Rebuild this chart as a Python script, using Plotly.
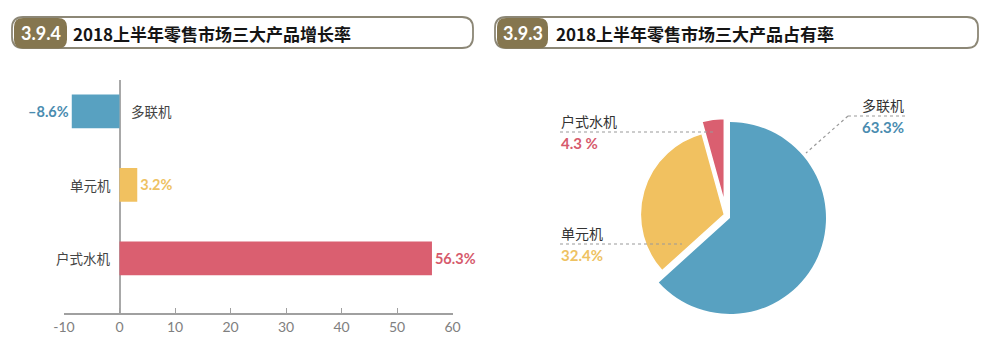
import plotly.graph_objects as go

# ---------------- data ----------------
categories = ["多联机", "单元机", "户式水机"]
growth = [-8.6, 3.2, 56.3]          # 增长率 (%)
share = [63.3, 32.4, 4.3]           # 占有率 (%)
x_ticks = [-10, 0, 10, 20, 30, 40, 50, 60]
x_tick_text = ["-10", "0", "10", "20", "30", "40", "50", "60"]
left_badge, left_title = "3.9.4", "2018上半年零售市场三大产品增长率"
right_badge, right_title = "3.9.3", "2018上半年零售市场三大产品占有率"

# ---------------- style ----------------
colors = ["#58A1C1", "#F1C160", "#DA5F70"]
text_colors = ["#4A8CB0", "#EEC262", "#D65A6C"]
CJK = "Noto Sans CJK SC"
NUM = "Lato"
W, H = 996, 358
TRANSP = "rgba(0,0,0,0)"


def px(x):
    return x / W


def py(y):
    return 1 - y / H


def rrect_path(x0, y0, x1, y1, r):
    pts = [
        ("M", [(x0 + r, y0)]),
        ("L", [(x1 - r, y0)]),
        ("Q", [(x1, y0), (x1, y0 + r)]),
        ("L", [(x1, y1 - r)]),
        ("Q", [(x1, y1), (x1 - r, y1)]),
        ("L", [(x0 + r, y1)]),
        ("Q", [(x0, y1), (x0, y1 - r)]),
        ("L", [(x0, y0 + r)]),
        ("Q", [(x0, y0), (x0 + r, y0)]),
    ]
    s = ""
    for cmd, ps in pts:
        s += cmd + " " + " ".join(f"{px(a):.5f},{py(b):.5f}" for a, b in ps) + " "
    return s + "Z"


fig = go.Figure()

# ---------------- bar chart ----------------
def fmt(v):
    return f"<b>{v:.1f}%</b>".replace("-", "–")


fig.add_trace(go.Bar(
    x=growth, y=categories, orientation="h",
    marker=dict(color=colors, line=dict(width=0)),
    width=0.46,
    text=[fmt(v) for v in growth],
    textposition="outside",
    textfont=dict(color=text_colors, size=14.5, family=NUM),
    cliponaxis=False,
    showlegend=False,
    hoverinfo="x+y",
))

# ---------------- pie chart (two layers: blue larger, others exploded) ----------------
bc, br = (730, 218), 96
fig.add_trace(go.Pie(
    values=share, labels=categories, sort=False, direction="clockwise", rotation=0,
    marker=dict(colors=[colors[0], TRANSP, TRANSP], line=dict(width=0)),
    textinfo="none", showlegend=False,
    domain=dict(x=[px(bc[0] - br), px(bc[0] + br)], y=[py(bc[1] + br), py(bc[1] - br)]),
))
oc, orad, maxpull = (726, 215), 84, 0.15
half = orad * (1 + maxpull)
fig.add_trace(go.Pie(
    values=share, labels=categories, sort=False, direction="clockwise", rotation=0,
    pull=[0, 0.02, maxpull],
    marker=dict(colors=[TRANSP, colors[1], colors[2]],
                line=dict(color=[TRANSP, "white", "white"], width=[0, 1.5, 1.5])),
    textinfo="none", showlegend=False,
    domain=dict(x=[px(oc[0] - half), px(oc[0] + half)], y=[py(oc[1] + half), py(oc[1] - half)]),
))

fig.update_layout(
    width=W, height=H,
    margin=dict(l=0, r=0, t=0, b=0),
    paper_bgcolor="white", plot_bgcolor="white",
    template="none",
    xaxis=dict(
        domain=[px(64), px(452.5)], range=[-10, 60],
        tickvals=x_ticks, ticktext=x_tick_text,
        ticks="inside", ticklen=5, tickwidth=1.2, tickcolor="#A0A0A0",
        showline=True, linecolor="#A0A0A0", linewidth=1.5,
        zeroline=True, zerolinecolor="#A8A8A8", zerolinewidth=1.5,
        showgrid=False, automargin=False,
        tickfont=dict(size=14, color="#808080", family=NUM),
        fixedrange=True,
    ),
    yaxis=dict(
        domain=[py(313), py(80)], type="category",
        categoryorder="array", categoryarray=categories,
        range=[2.744, -0.426],
        showticklabels=False, showgrid=False, zeroline=False, showline=False,
        automargin=False, fixedrange=True,
    ),
)

annotations = []
shapes = []

# category labels next to the zero axis
for cat, v in zip(categories, growth):
    if v < 0:
        annotations.append(dict(x=0, y=cat, xref="x", yref="y", text=cat, showarrow=False,
                                xanchor="left", xshift=9,
                                font=dict(family=CJK, size=13.5, color="#444444")))
    else:
        annotations.append(dict(x=0, y=cat, xref="x", yref="y", text=cat, showarrow=False,
                                xanchor="right", xshift=-7,
                                font=dict(family=CJK, size=13.5, color="#444444")))

# headers
for (bx0, bx1, hx1, badge, title, tx) in [
    (14, 67, 473, left_badge, left_title, 71),
    (497, 548, 978, right_badge, right_title, 554),
]:
    shapes.append(dict(type="path", xref="paper", yref="paper",
                       path=rrect_path(bx0 - 2, 17, hx1, 48, 11),
                       line=dict(color="#8C8776", width=1.8), fillcolor="rgba(0,0,0,0)"))
    shapes.append(dict(type="path", xref="paper", yref="paper",
                       path=rrect_path(bx0, 18, bx1, 48.5, 9),
                       line=dict(width=0), fillcolor="#85764F"))
    annotations.append(dict(x=px((bx0 + bx1) / 2), y=py(33.5), xref="paper", yref="paper",
                            text=f"<b>{badge}</b>", showarrow=False, xanchor="center",
                            yanchor="middle",
                            font=dict(family=NUM, size=18, color="white")))
    annotations.append(dict(x=px(tx), y=py(33), xref="paper", yref="paper",
                            text=f"<b>{title}</b>", showarrow=False, xanchor="left",
                            yanchor="middle",
                            font=dict(family=CJK, size=17, color="#151515")))

# pie labels with dotted leader lines
dot = dict(color="#9A9A9A", width=1.2, dash="dot")
pie_lbl = [
    # (index, label x, name y, line y, line x0, line x1, pct y, anchor)
    (2, 559, 121, 132, 560, 716, 143, "left"),
    (1, 559, 233, 244, 560, 682, 255, "left"),
    (0, 906, 105, 116, 848, 905, 127, "right"),
]
for i, lx, ny, ly, lx0, lx1, pyy, anc in pie_lbl:
    annotations.append(dict(x=px(lx), y=py(ny), xref="paper", yref="paper", text=categories[i],
                            showarrow=False, xanchor=anc, yanchor="middle",
                            font=dict(family=CJK, size=14, color="#333333")))
    pct = f"{share[i]:.1f} %" if i == 2 else f"{share[i]:.1f}%"
    annotations.append(dict(x=px(lx), y=py(pyy), xref="paper", yref="paper",
                            text=f"<b>{pct}</b>", showarrow=False, xanchor=anc, yanchor="middle",
                            font=dict(family=NUM, size=15, color=text_colors[i])))
    shapes.append(dict(type="line", xref="paper", yref="paper",
                       x0=px(lx0), x1=px(lx1), y0=py(ly), y1=py(ly), line=dot))
# diagonal leader to blue slice
shapes.append(dict(type="line", xref="paper", yref="paper",
                   x0=px(848), x1=px(806), y0=py(116), y1=py(153), line=dot))

fig.update_layout(annotations=annotations, shapes=shapes)

fig.write_html("out.html", config={"displayModeBar": False},
               post_script="document.body.style.margin='0';")
